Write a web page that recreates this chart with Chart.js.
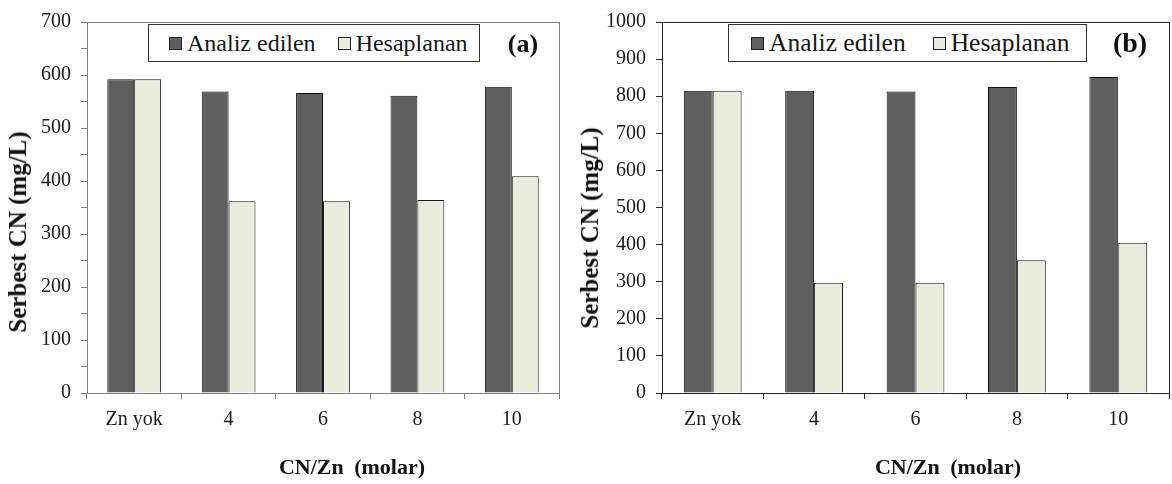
<!DOCTYPE html>
<html>
<head>
<meta charset="utf-8">
<script src="https://cdn.jsdelivr.net/npm/chart.js@4.4.1/dist/chart.umd.min.js"></script>
<style>
  body { margin: 0; background: #fff; width: 1172px; height: 484px; position: relative; overflow: hidden; font-family: 'Liberation Serif', 'Times New Roman', serif; color: #111; }
  canvas { position: absolute; top: 0; }
  .legend { position: absolute; top: 24px; height: 38px; box-sizing: border-box; border: 1.5px solid #333; display: flex; align-items: center; background: #fff; white-space: nowrap; font-family: 'Liberation Serif', serif; color: #161616; }
  .legend .sw { display: inline-block; box-sizing: border-box; border: 1px solid #222; }
  .tag { position: absolute; font-weight: bold; transform: translate(-50%, -50%); }
  .xt { position: absolute; font-weight: bold; font-size: 22px; word-spacing: 5px; transform: translate(-50%, -50%); white-space: nowrap; }
  .yt { position: absolute; font-weight: bold; font-size: 25px; transform: translate(-50%, -50%) rotate(-90deg); white-space: nowrap; }
</style>
</head>
<body>
<canvas id="chartA" width="575" height="484" style="left:0"></canvas>
<canvas id="chartB" width="592" height="484" style="left:580px"></canvas>
<div id="legendA" class="legend" style="left:148px;width:332px;font-size:24px"></div>
<div id="legendB" class="legend" style="left:728px;width:359px;font-size:25.5px"></div>
<div id="tagA" class="tag" style="left:523px;top:44px;font-size:26px"></div>
<div id="tagB" class="tag" style="left:1130px;top:43px;font-size:28px"></div>
<div id="xtA" class="xt" style="left:352px;top:467px"></div>
<div id="xtB" class="xt" style="left:948px;top:467px"></div>
<div id="ytA" class="yt" style="left:18px;top:232px"></div>
<div id="ytB" class="yt" style="left:590px;top:228px"></div>
<script>
// data
const categories = ['Zn yok', '4', '6', '8', '10'];
const seriesNames = ['Analiz edilen', 'Hesaplanan'];
const analizA = [592, 569, 566, 561, 578];
const hesapA = [592, 362, 362, 364, 409];
const analizB = [815, 815, 813, 825, 852];
const hesapB = [815, 297, 297, 358, 405];
const yMaxA = 700;
const yMaxB = 1000;
const yTitle = 'Serbest CN (mg/L)';
const xTitle = 'CN/Zn (molar)';
const panelTags = ['(a)', '(b)'];

const barColors = ['#5f5f5f', '#ecebe0'];
const tickFont = { family: 'Liberation Serif', size: 20 };

// plot frame (top/right lines, redraw left/bottom over the bars)
const frame = {
    id: 'frame',
    afterDatasetsDraw(chart, args, opts) {
        const { ctx, chartArea: a } = chart;
        ctx.save();
        ctx.strokeStyle = opts.color;
        ctx.lineWidth = 1;
        ctx.strokeRect(Math.round(a.left) + 0.5, Math.round(a.top) + 0.5,
            Math.round(a.right - a.left), Math.round(a.bottom - a.top));
        ctx.restore();
    }
};

function buildChart(id, analiz, hesap, yMax, step, labelStep, axisColor, yWidth, padRight) {
    return new Chart(document.getElementById(id).getContext('2d'), {
        type: 'bar',
        data: {
            labels: categories,
            datasets: [
                { label: seriesNames[0], data: analiz, backgroundColor: barColors[0], borderColor: '#111', borderWidth: 1 },
                { label: seriesNames[1], data: hesap, backgroundColor: barColors[1], borderColor: '#1a1a1a', borderWidth: 1 }
            ]
        },
        options: {
            responsive: false,
            animation: false,
            datasets: { bar: { categoryPercentage: 0.57, barPercentage: 1 } },
            layout: { padding: { top: 15, right: padRight, left: 0, bottom: 0 } },
            plugins: {
                legend: { display: false },
                tooltip: { enabled: false },
                frame: { color: axisColor }
            },
            scales: {
                x: {
                    grid: { drawOnChartArea: false, tickLength: 6, color: axisColor, offset: true },
                    border: { color: axisColor },
                    ticks: { font: tickFont, color: '#1a1a1a', padding: 9, maxRotation: 0 },
                    afterFit: s => { s.height = 91; }
                },
                y: {
                    min: 0,
                    max: yMax,
                    grid: { drawOnChartArea: false, tickLength: 6, color: axisColor },
                    border: { color: axisColor },
                    ticks: {
                        stepSize: step,
                        autoSkip: false,
                        font: tickFont,
                        color: '#1a1a1a',
                        padding: 10,
                        callback: v => (v % labelStep === 0 ? v : '')
                    },
                    afterFit: s => { s.width = yWidth; }
                }
            }
        },
        plugins: [frame]
    });
}

function buildLegend(chart, el, sw, padLeft, itemGap) {
    el.style.paddingLeft = padLeft + 'px';
    chart.data.datasets.forEach((ds, i) => {
        const box = document.createElement('span');
        box.className = 'sw';
        box.style.width = sw + 'px';
        box.style.height = sw + 'px';
        box.style.background = ds.backgroundColor;
        box.style.marginRight = '5px';
        if (i > 0) box.style.marginLeft = itemGap + 'px';
        const txt = document.createElement('span');
        txt.textContent = ds.label;
        el.appendChild(box);
        el.appendChild(txt);
    });
}

const chartA = buildChart('chartA', analizA, hesapA, yMaxA, 50, 100, '#7f7f7f', 87, 16);
const chartB = buildChart('chartB', analizB, hesapB, yMaxB, 100, 100, '#262626', 82, 3);

buildLegend(chartA, document.getElementById('legendA'), 13, 20, 22);
buildLegend(chartB, document.getElementById('legendB'), 13, 22, 27);

document.getElementById('tagA').textContent = panelTags[0];
document.getElementById('tagB').textContent = panelTags[1];
document.getElementById('xtA').textContent = xTitle;
document.getElementById('xtB').textContent = xTitle;
document.getElementById('ytA').textContent = yTitle;
document.getElementById('ytB').textContent = yTitle;
</script>
</body>
</html>
